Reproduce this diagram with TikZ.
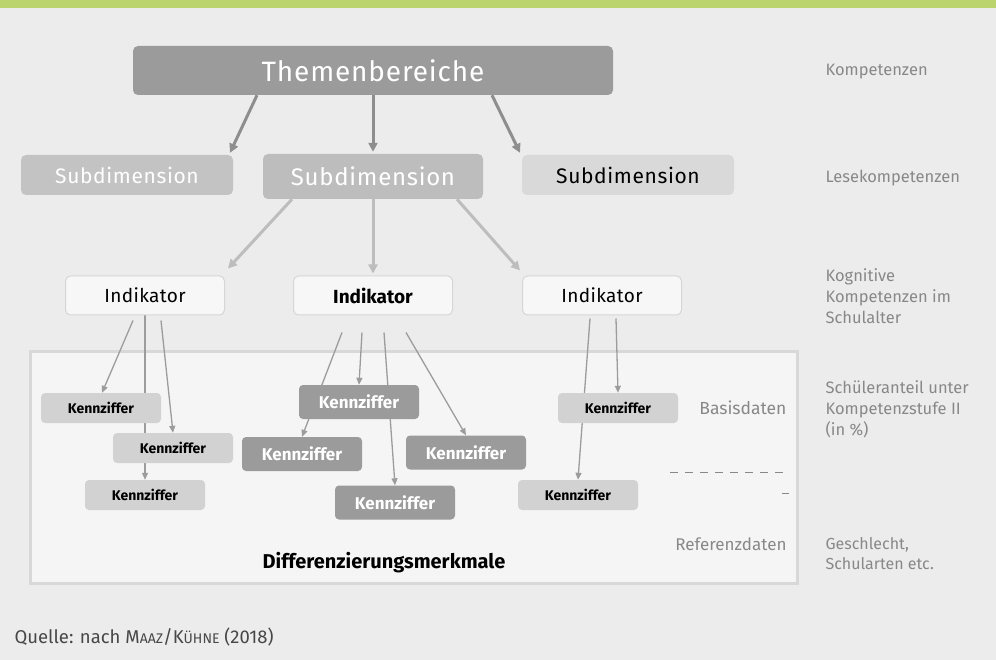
\documentclass[tikz,border=0pt]{standalone}
\usepackage{fontspec}
\setmainfont{Fira Sans}
\usetikzlibrary{arrows.meta,positioning,calc}
\definecolor{bgc}{HTML}{ECECEC}
\definecolor{topbar}{HTML}{BBD46E}
\definecolor{darkbox}{HTML}{9B9B9B}
\definecolor{subl}{HTML}{C3C3C3}
\definecolor{subm}{HTML}{BDBDBD}
\definecolor{subr}{HTML}{D9D9D9}
\definecolor{indfill}{HTML}{F7F7F7}
\definecolor{indline}{HTML}{D6D6D6}
\definecolor{panelc}{HTML}{F5F5F5}
\definecolor{panelline}{HTML}{D8D8D8}
\definecolor{kzlight}{HTML}{D2D2D2}
\definecolor{labelc}{HTML}{888888}
\definecolor{arrd}{HTML}{8E8E8E}
\definecolor{arrl}{HTML}{BDBDBD}
\definecolor{arrk}{HTML}{9C9C9C}
\pgfdeclarelayer{back}\pgfdeclarelayer{lines}
\pgfsetlayers{back,lines,main}
\begin{document}
\begin{tikzpicture}[x=1pt,y=-1pt,
 box/.style={rounded corners=5pt,inner sep=0pt,align=center},
 themabox/.style={box,fill=darkbox,text=white,minimum width=480,minimum height=49,font=\fontsize{28}{30}\selectfont\addfontfeature{LetterSpace=3}},
 subbox/.style={box,minimum width=212,minimum height=40,font=\fontsize{21}{24}\selectfont\addfontfeature{LetterSpace=3}},
 indbox/.style={box,fill=indfill,draw=indline,line width=1pt,minimum width=159,minimum height=39,font=\fontsize{19}{22}\selectfont\addfontfeature{LetterSpace=2}},
 kzbox/.style={box,rounded corners=4pt,minimum width=120,minimum height=30,font=\bfseries\fontsize{14}{16}\selectfont},
 kzdark/.style={box,rounded corners=4pt,fill=darkbox,text=white,minimum width=120,minimum height=34,font=\bfseries\fontsize{17}{19}\selectfont},
 lbl/.style={anchor=west,text=labelc,align=left,font=\fontsize{16.5}{21}\selectfont},
 topar/.style={draw=arrd,line width=3pt,-{Triangle[length=9pt,width=9pt]}},
 subar/.style={draw=arrl,line width=3pt,-{Triangle[length=9pt,width=9pt]}},
 kzar/.style={draw=arrk,line width=1.3pt,-{Triangle[length=7pt,width=6pt]}}]
\useasboundingbox (0,0) rectangle (996,660);
\begin{pgfonlayer}{back}
\fill[bgc] (0,0) rectangle (996,660);
\fill[topbar] (0,0) rectangle (996,8);
\draw[panelline,fill=panelc,line width=3pt] (30,351) rectangle (797,583);
\end{pgfonlayer}

% upper levels
\node[themabox] (thema) at (373,70.5) {Themenbereiche};
\node[subbox,fill=subl,text=white] (subL) at (127,175) {Subdimension};
\node[subbox,fill=subm,text=white,minimum width=220,minimum height=45,font=\fontsize{24}{27}\selectfont\addfontfeature{LetterSpace=3}] (subM) at (373,176.5) {Subdimension};
\node[subbox,fill=subr,text=black] (subR) at (628,175) {Subdimension};
\node[indbox] (indL) at (145,295.5) {Indikator};
\node[indbox,font=\bfseries\fontsize{19}{22}\selectfont] (indM) at (373,295.5) {Indikator};
\node[indbox] (indR) at (602,295.5) {Indikator};

% Kennziffern
\node[kzbox,fill=kzlight] (kL1) at (101,408) {Kennziffer};
\node[kzbox,fill=kzlight] (kL2) at (173,448) {Kennziffer};
\node[kzbox,fill=kzlight] (kL3) at (145,495) {Kennziffer};
\node[kzdark] (kM1) at (359,402) {Kennziffer};
\node[kzdark] (kM2) at (302,454) {Kennziffer};
\node[kzdark] (kM3) at (466,452.5) {Kennziffer};
\node[kzdark] (kM4) at (395,502.5) {Kennziffer};
\node[kzbox,fill=kzlight] (kR1) at (618,408) {Kennziffer};
\node[kzbox,fill=kzlight] (kR2) at (578,495) {Kennziffer};

\begin{pgfonlayer}{lines}
\draw[topar] ([xshift=-116pt]thema.south) -- ([xshift=103pt,yshift=2pt]subL.north);
\draw[topar] (thema.south) -- ([yshift=2pt]subM.north);
\draw[topar] ([xshift=119pt]thema.south) -- ([xshift=-108pt,yshift=2pt]subR.north);
\draw[subar] ([xshift=-81pt]subM.south) -- ([xshift=83pt,yshift=7pt]indL.north);
\draw[subar] (subM.south) -- ([yshift=2pt]indM.north);
\draw[subar] ([xshift=84pt]subM.south) -- ([xshift=-82pt,yshift=5pt]indR.north);
\draw[kzar] ([xshift=-12pt,yshift=-5pt]indL.south) -- ([xshift=1pt]kL1.north);
\draw[kzar] (indL.south) -- (kL3.north);
\draw[kzar] ([xshift=16pt,yshift=-5pt]indL.south) -- (kL2.north);
\foreach \dx/\kz in {-31/kM2,-11/kM1,11/kM4,33/kM3}
 \draw[kzar] ([xshift=\dx pt,yshift=-17pt]indM.south) -- (\kz.north);
\draw[kzar] ([xshift=-12pt,yshift=-3pt]indR.south) -- (kR2.north);
\draw[kzar] ([xshift=14pt,yshift=-3pt]indR.south) -- (kR1.north);
\end{pgfonlayer}

% Beschriftungen
\node[lbl] (lKomp) at (822,72) {Kompetenzen};
\node[lbl] (lLese) at (822,178) {Lesekompetenzen};
\node[lbl] (lKogn) at (822,296) {Kognitive\\Kompetenzen im\\Schulalter};
\node[lbl] (lSchu) at (822,409) {Schüleranteil unter\\Kompetenzstufe II\\(in \%)};
\node[lbl,font=\fontsize{16}{20}\selectfont] (lGesch) at (822,554) {Geschlecht,\\Schularten etc.};
\node[lbl,anchor=east,font=\fontsize{17.5}{20}\selectfont] (lBasis) at (790,408) {Basisdaten};
\node[lbl,anchor=east,font=\fontsize{17}{20}\selectfont] (lRef) at (790,544) {Referenzdaten};
\draw[labelc,line width=1pt,dash pattern=on 8pt off 7pt] (670,472) -- (788,472);
\draw[labelc,line width=1pt] (782,493) -- (789,493);
\node[font=\fontsize{20}{22}\selectfont\bfseries] (diff) at (384,563) {Differenzierungsmerkmale};
\node[anchor=west,text=black!72,font=\fontsize{18.5}{22}\selectfont] (quelle) at (11,637) {Quelle: nach M{\fontsize{14}{16}\selectfont AAZ}/K{\fontsize{14}{16}\selectfont ÜHNE} (2018)};
\end{tikzpicture}
\end{document}
